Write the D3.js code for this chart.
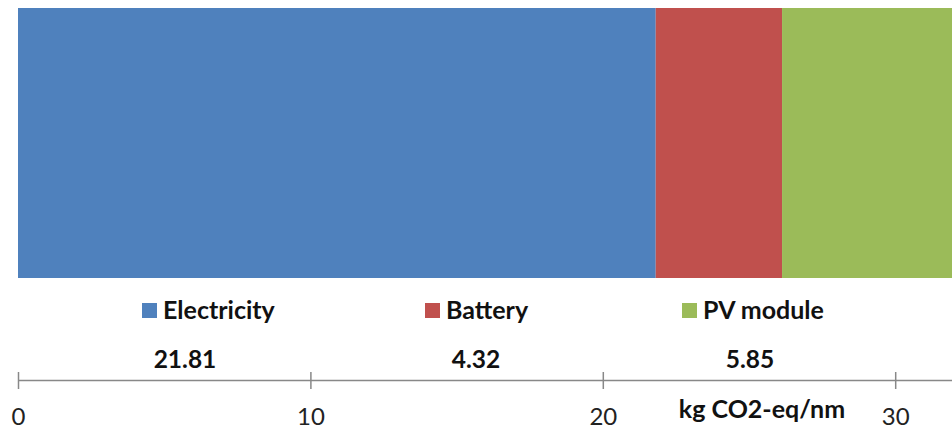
<!DOCTYPE html>
<html><head><meta charset="utf-8">
<script src="https://cdn.jsdelivr.net/npm/d3@7"></script>
<style>body{margin:0;background:#fff;}svg{display:block;font-family:Lato,"Open Sans",sans-serif;}</style>
</head><body>
<svg id="c" width="952" height="430"></svg>
<script>
const categories = ["Electricity", "Battery", "PV module"];
const values = [21.81, 4.32, 5.85];
const colors = ["#4F81BD", "#C0504D", "#9BBB59"];
const tickValues = [0, 10, 20, 30];
const axisTitle = "kg CO2-eq/nm";

const svg = d3.select("#c");
const x = d3.scaleLinear().domain([0, 32]).range([18, 18 + 32 * 29.24]);

let acc = 0;
const stacked = values.map((v, i) => { const s = {cat: categories[i], v, x0: acc, x1: acc + v, c: colors[i]}; acc += v; return s; });

svg.selectAll("rect.bar").data(stacked).enter().append("rect")
  .attr("class", "bar")
  .attr("x", d => x(d.x0)).attr("width", d => x(d.x1) - x(d.x0))
  .attr("y", 8).attr("height", 270)
  .attr("fill", d => d.c);

// legend
const legendX = [142, 425, 682];
const lg = svg.selectAll("g.lg").data(stacked).enter().append("g").attr("class", "lg")
  .attr("transform", (d, i) => `translate(${legendX[i]},303)`);
lg.append("rect").attr("width", 15).attr("height", 15).attr("fill", d => d.c);
lg.append("text").attr("x", 21).attr("y", 16).attr("font-size", 25).attr("font-weight", "bold")
  .attr("fill", "#111").text(d => d.cat);

// value labels
const valueX = [185, 476, 750];
svg.selectAll("text.val").data(stacked).enter().append("text").attr("class", "val")
  .attr("x", (d, i) => valueX[i]).attr("y", 368).attr("text-anchor", "middle")
  .attr("font-size", 24.5).attr("font-weight", "bold").attr("fill", "#111")
  .text(d => d.v.toFixed(2));

// axis
const axis = svg.append("g").attr("transform", "translate(0,380)")
  .call(d3.axisBottom(x).tickValues(tickValues).tickSizeOuter(0).tickSizeInner(8).tickPadding(0).tickFormat(d3.format("d")));
axis.select(".domain").attr("stroke", "#888").attr("stroke-width", 1.5);
axis.selectAll(".tick line").attr("y1", -8).attr("y2", 9).attr("stroke", "#888").attr("stroke-width", 1.5);
axis.selectAll(".tick text").attr("y", 45).attr("dy", null).attr("font-size", 24)
  .attr("font-family", "Lato, sans-serif").attr("fill", "#222");

svg.append("text").attr("x", 762).attr("y", 418).attr("text-anchor", "middle")
  .attr("font-size", 25).attr("font-weight", "bold").attr("fill", "#111").text(axisTitle);
</script>
</body></html>
